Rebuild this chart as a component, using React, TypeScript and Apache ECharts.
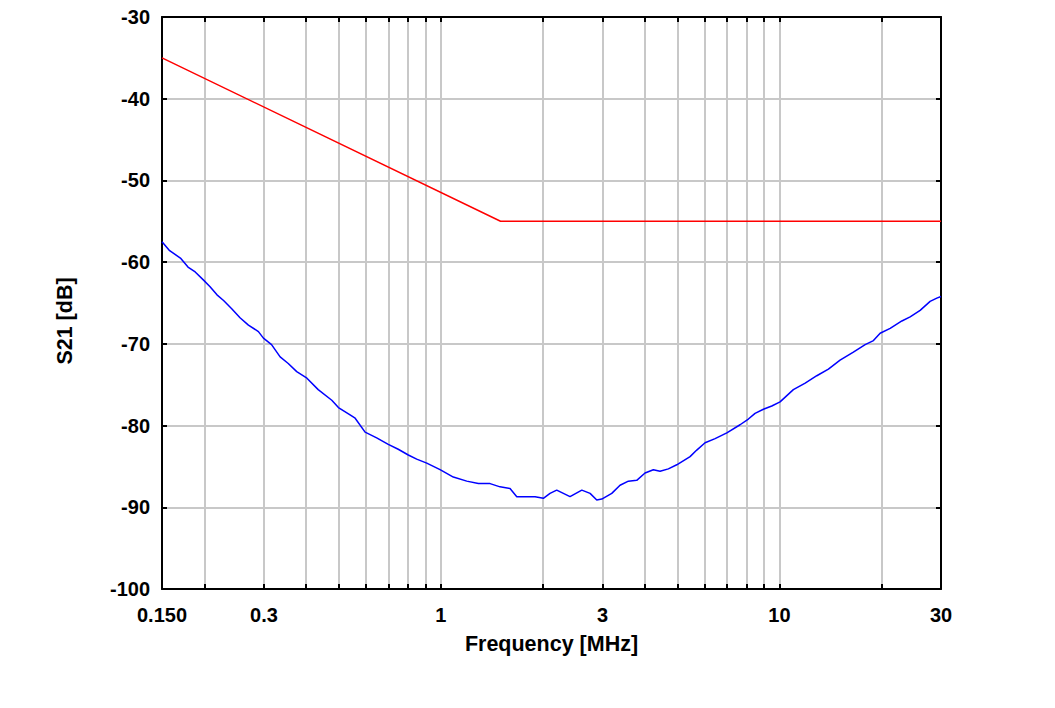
import React, { useEffect, useRef } from "react";
import * as echarts from "echarts";

// Measured S21 curve (frequency in MHz, attenuation in dB)
const measFreq = [
  0.15, 0.158, 0.17, 0.179, 0.188, 0.199, 0.208, 0.218, 0.228, 0.241, 0.255, 0.27,
  0.289, 0.299, 0.316, 0.335, 0.354, 0.375, 0.402, 0.434, 0.476, 0.498, 0.539, 0.558,
  0.597, 0.646, 0.699, 0.748, 0.801, 0.848, 0.908, 0.994, 1.088, 1.192, 1.29, 1.397,
  1.495, 1.6, 1.675, 1.897, 2.007, 2.1, 2.198, 2.406, 2.607, 2.758, 2.886, 2.986,
  3.196, 3.381, 3.578, 3.788, 4.008, 4.241, 4.439, 4.697, 4.973, 5.444, 5.698, 6.029,
  6.455, 6.99, 7.649, 8.094, 8.47, 8.964, 9.49, 10.04, 10.99, 11.91, 12.89, 13.95,
  15.1, 16.53, 17.91, 18.95, 19.83, 21.23, 22.99, 24.32, 26.03, 27.86, 29.16, 30,
];
const measDb = [
  -57.5, -58.6, -59.5, -60.6, -61.2, -62.2, -63.0, -64.0, -64.7, -65.7, -66.8, -67.7,
  -68.5, -69.3, -70.1, -71.6, -72.4, -73.4, -74.2, -75.6, -76.9, -77.8, -78.7, -79.1,
  -80.8, -81.5, -82.3, -82.9, -83.6, -84.1, -84.6, -85.4, -86.3, -86.8, -87.1, -87.1,
  -87.5, -87.7, -88.7, -88.7, -88.9, -88.3, -87.9, -88.7, -87.9, -88.3, -89.1, -89.0,
  -88.3, -87.3, -86.8, -86.7, -85.8, -85.4, -85.6, -85.3, -84.8, -83.8, -83.0, -82.1,
  -81.6, -80.9, -79.9, -79.2, -78.5, -78.0, -77.6, -77.1, -75.6, -74.8, -73.9, -73.1,
  -72.0, -71.0, -70.1, -69.6, -68.7, -68.1, -67.2, -66.7, -65.9, -64.8, -64.4, -64.2,
];

// Limit line
const limitFreq = [0.15, 1.5, 30];
const limitDb = [-35, -55, -55];

// Axes
const xMin = 0.15;
const xMax = 30;
const xGridValues = [0.2, 0.3, 0.4, 0.5, 0.6, 0.7, 0.8, 0.9, 1, 2, 3, 4, 5, 6, 7, 8, 9, 10, 20];
const xLabelValues = [0.15, 0.3, 1, 3, 10, 30];
const xLabelTexts = ["0.150", "0.3", "1", "3", "10", "30"];
const yMin = -100;
const yMax = -30;
const yStep = 10;
const xName = "Frequency [MHz]";
const yName = "S21 [dB]";

const FONT = "'Liberation Sans', Arial, sans-serif";

function xLabelFormatter(v: number): string {
  let best = "";
  let bestD = Infinity;
  xLabelValues.forEach((lv, i) => {
    const d = Math.abs(Math.log10(v) - Math.log10(lv));
    if (d < bestD) {
      bestD = d;
      best = xLabelTexts[i];
    }
  });
  return bestD < 0.01 ? best : "";
}

export default function App() {
  const ref = useRef<HTMLDivElement>(null);

  useEffect(() => {
    if (!ref.current) return;
    const chart = echarts.init(ref.current, null, { renderer: "svg" });

    const axisLineStyle = { color: "#000", width: 2 };
    const tickStyle = { color: "#000", width: 2 };
    const labelStyle = {
      color: "#000",
      fontFamily: FONT,
      fontWeight: "bold" as const,
      fontSize: 20,
    };

    chart.setOption({
      animation: false,
      backgroundColor: "#fff",
      grid: { left: 162, top: 17, width: 779, height: 572, containLabel: false },
      graphic: [
        {
          type: "text",
          x: 65,
          y: 321,
          rotation: Math.PI / 2,
          style: {
            text: yName,
            fill: "#000",
            font: `bold 21.5px ${FONT}`,
            align: "center",
            verticalAlign: "middle",
          },
        },
      ],
      xAxis: [
        {
          type: "log",
          logBase: 10,
          min: xMin,
          max: xMax,
          position: "bottom",
          name: xName,
          nameLocation: "middle",
          nameGap: 44,
          nameTextStyle: { ...labelStyle, fontSize: 21.5 },
          axisLine: { show: true, onZero: false, lineStyle: axisLineStyle },
          axisTick: {
            show: true,
            inside: true,
            length: 5,
            lineStyle: tickStyle,
            customValues: xGridValues,
          },
          axisLabel: {
            show: true,
            margin: 16,
            ...labelStyle,
            customValues: xLabelValues,
            showMinLabel: true,
            showMaxLabel: true,
            formatter: (v: number) => xLabelFormatter(v),
          },
          splitLine: { show: true, lineStyle: { color: "#c8c8c8", width: 2 } },
          minorTick: { show: false },
          minorSplitLine: { show: false },
        },
        {
          type: "log",
          logBase: 10,
          min: xMin,
          max: xMax,
          position: "top",
          axisLine: { show: true, onZero: false, lineStyle: axisLineStyle },
          axisTick: {
            show: true,
            inside: true,
            length: 5,
            lineStyle: tickStyle,
            customValues: xGridValues,
          },
          axisLabel: { show: false },
          splitLine: { show: false },
        },
      ],
      yAxis: [
        {
          type: "value",
          min: yMin,
          max: yMax,
          interval: yStep,
          position: "left",
          axisLine: { show: true, onZero: false, lineStyle: axisLineStyle },
          axisTick: { show: true, inside: true, length: 5, lineStyle: tickStyle },
          axisLabel: { show: true, margin: 12, ...labelStyle },
          splitLine: { show: true, lineStyle: { color: "#c8c8c8", width: 2 } },
        },
        {
          type: "value",
          min: yMin,
          max: yMax,
          interval: yStep,
          position: "right",
          axisLine: { show: true, onZero: false, lineStyle: axisLineStyle },
          axisTick: { show: true, inside: true, length: 5, lineStyle: tickStyle },
          axisLabel: { show: false },
          splitLine: { show: false },
        },
      ],
      series: [
        {
          type: "line",
          name: "Limit",
          xAxisIndex: 0,
          yAxisIndex: 0,
          showSymbol: false,
          symbol: "none",
          lineStyle: { color: "#ff0000", width: 1.5 },
          data: limitFreq.map((f, i) => [f, limitDb[i]]),
          z: 3,
        },
        {
          type: "line",
          name: "S21",
          xAxisIndex: 0,
          yAxisIndex: 0,
          showSymbol: false,
          symbol: "none",
          lineStyle: { color: "#0000ff", width: 1.5 },
          data: measFreq.map((f, i) => [f, measDb[i]]),
          z: 3,
        },
      ],
    });

    return () => {
      chart.dispose();
    };
  }, []);

  return (
    <div
      ref={ref}
      style={{ position: "fixed", left: 0, top: 0, width: 1055, height: 708, background: "#fff" }}
    />
  );
}
